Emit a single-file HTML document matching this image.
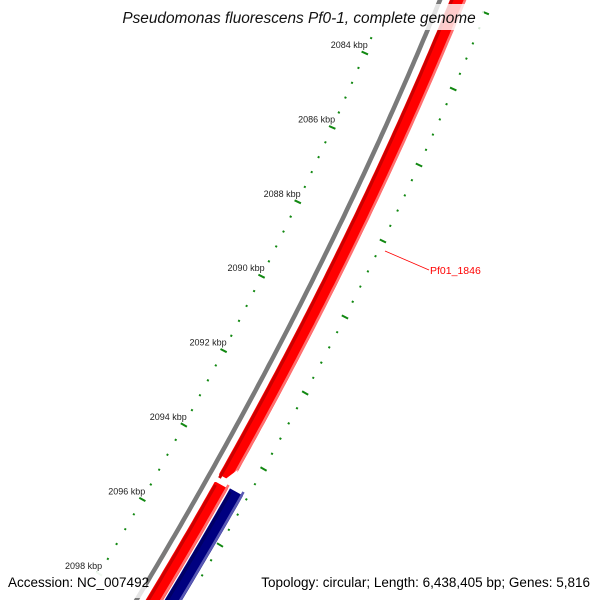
<!DOCTYPE html>
<html><head><meta charset="utf-8">
<style>
html,body{margin:0;padding:0;background:#fff;overflow:hidden;width:600px;height:600px;}
svg{display:block;overflow:hidden;font-family:"Liberation Sans","DejaVu Sans",sans-serif;}
</style></head>
<body>
<svg id="map" width="600" height="600" viewBox="0 0 600 600" xmlns="http://www.w3.org/2000/svg">
<g id="bands"></g>
<g id="ticks"></g>
<g id="labels"></g>
<line x1="385" y1="251" x2="429" y2="270" stroke="#ff0000" stroke-width="0.8"/>
<text x="430" y="274" font-size="10.5" fill="#ff0000">Pf01_1846</text>
<rect x="116" y="4" width="368" height="26" fill="#fff" opacity="0.8"/>
<text x="299" y="23" font-size="15.4" font-style="italic" text-anchor="middle" fill="#111">Pseudomonas fluorescens Pf0-1, complete genome</text>
<rect x="4" y="572" width="142" height="26" fill="#fff" opacity="0.8"/>
<text x="8" y="587" font-size="13.5" fill="#000">Accession: NC_007492</text>
<text x="590" y="587" font-size="13.5" text-anchor="end" fill="#000">Topology: circular; Length: 6,438,405 bp; Genes: 5,816</text>
</svg>
<script>
// ruler data (kbp)
const majorKbp = [2084, 2086, 2088, 2090, 2092, 2094, 2096, 2098];
const majorLabels = ["2084 kbp","2086 kbp","2088 kbp","2090 kbp","2092 kbp","2094 kbp","2096 kbp","2098 kbp"];
const minorStep = [0.4];
// feature segments (y extents along view)
const redFeatures = [[-20, 478], [485, 620]];
const blueFeatures = [[492, 620]];

const NS = "http://www.w3.org/2000/svg";
function x0(y){ return 440 - 0.41*y - 0.00016*y*y; }
function slope(y){ return -0.41 - 2*0.00016*y; }
function yLeft(k){ return 53 + (k-2084)*37.2; }
function yRight(k){ return 13 + (k-2084)*38; }
function mk(tag, attrs, parent){ const e=document.createElementNS(NS,tag); for(const a in attrs) e.setAttribute(a,attrs[a]); parent.appendChild(e); return e; }
function bandPath(y1,y2,off){ let d=""; for(let y=y1;y<=y2;y+=5){ d+=(d?"L":"M")+(x0(y)+off).toFixed(1)+","+y+" "; } d+="L"+(x0(y2)+off).toFixed(1)+","+y2; return d; }

const bands=document.getElementById('bands');
let g=mk('path',{d:bandPath(-20,620,0),stroke:'#7a7a7a','stroke-width':4.5,fill:'none'},bands);


function drawFeature(seg, off, main, dark, light, name){
  const [a,b]=seg;
  let m=mk('path',{d:bandPath(a,b,off),stroke:main,'stroke-width':15,fill:'none'},bands);
  
  
  let d1=mk('path',{d:bandPath(a,b,off-6),stroke:dark,'stroke-width':3,fill:'none'},bands);
  
  
  let l1=mk('path',{d:bandPath(a,b,off+7),stroke:light,'stroke-width':2.5,fill:'none'},bands);
  
  
}
redFeatures.forEach((s,i)=>drawFeature(s,18,'#ff0000','#cc0000','#ff7070','red-gene-'+i));
blueFeatures.forEach((s,i)=>drawFeature(s,37,'#000080','#000066','#5a5ab4','blue-gene-'+i));
// arrow point at end of first red feature (mask corners)
(function(){
  const y=redFeatures[0][1], xc=x0(y)+18;
  let p=mk('path',{d:`M${xc-12},${y-6} L${xc-4},${y+4} L${xc-12},${y+4} Z M${xc+12},${y-8} L${xc-4},${y+4} L${xc+12},${y+4} Z`,fill:'#fff'},bands);
  
  
})();

const ticks=document.getElementById('ticks'), labels=document.getElementById('labels');
function tick(y, off, len, w, name, color){
  const s=slope(y); const n=Math.hypot(1,s); const px=1/n, py=-s/n;
  const cx=x0(y)+off;
  let l=mk('line',{x1:(cx-px*len/2).toFixed(1),y1:(y-py*len/2).toFixed(1),x2:(cx+px*len/2).toFixed(1),y2:(y+py*len/2).toFixed(1),stroke:color,'stroke-width':w},ticks);
  
  
}
for(let k=2083.6;k<=2098.81;k+=minorStep[0]){
  const kk=Math.round(k*10)/10;
  const isMajor=Math.abs(kk-Math.round(kk))<0.01 && Math.round(kk)%2===0;
  const yl=yLeft(kk), yr=yRight(kk);
  const fadeL = yl>560 ? '#b5dcb5' : '#118811';
  if(yl>-5 && yl<605) tick(yl,-53,isMajor?7:2,2,isMajor?'outer-major-tick':'outer-minor-tick',fadeL);
  if(yr>-5 && yr<605) tick(yr,51,isMajor?7:2,2,isMajor?'inner-major-tick':'inner-minor-tick','#118811');
}
majorKbp.forEach((k,i)=>{
  const y=yLeft(k);
  let t=mk('text',{x:(x0(y)-50).toFixed(1),y:(y-5).toFixed(1),'font-size':9,'text-anchor':'end',fill:'#222'},labels);
  t.textContent=majorLabels[i];
  
  
});
</script>
</body></html>
